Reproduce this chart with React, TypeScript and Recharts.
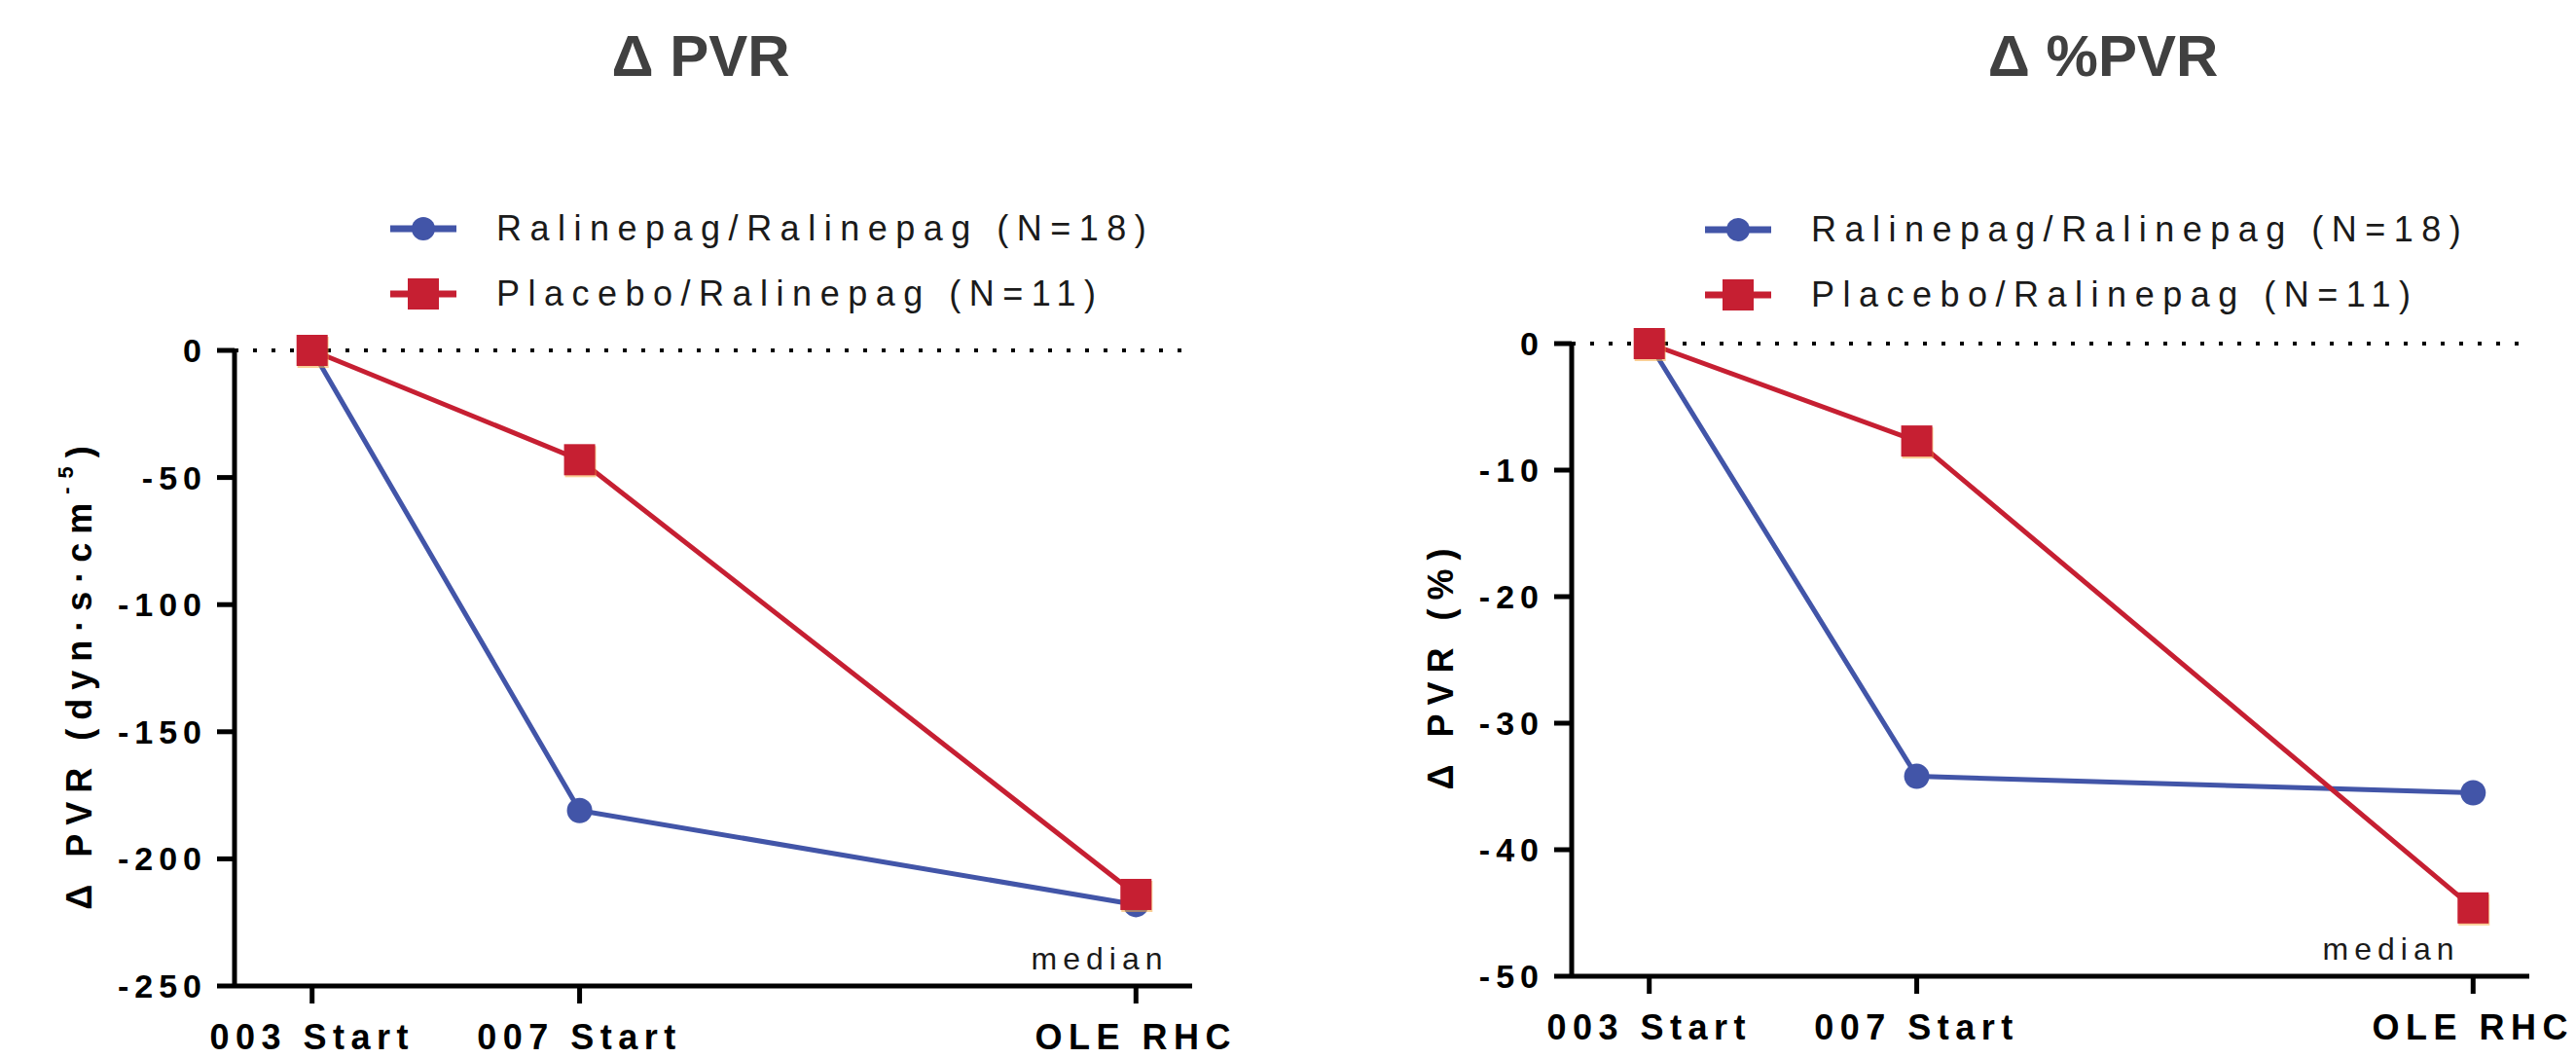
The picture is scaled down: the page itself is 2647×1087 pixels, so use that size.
import React from 'react';
import { LineChart, Line, XAxis, YAxis, ReferenceLine } from 'recharts';

// visit timeline (x position of each visit on the shared axis)
const visitLabels = ['003 Start', '007 Start', 'OLE RHC'];
const visitPos = [0, 1, 3.08];

const seriesNames = ['Ralinepag/Ralinepag (N=18)', 'Placebo/Ralinepag (N=11)'];

// change in PVR, dyn·s·cm-5
const pvrRalRal = [0, -181, -218];
const pvrPlaRal = [0, -43, -214];
const pvrTicks = [0, -50, -100, -150, -200, -250];

// change in PVR, %
const pctRalRal = [0, -34.2, -35.5];
const pctPlaRal = [0, -7.7, -44.6];
const pctTicks = [0, -10, -20, -30, -40, -50];

const BLUE = '#4255A8';
const RED = '#C61F32';
const ORANGE = '#F6A83F';
const FONT = 'Arial, "Liberation Sans", sans-serif';
const H = 1087;

const buildRows = (a: number[], b: number[]) =>
  visitPos.map((x, i) => ({ x, ral: a[i], pla: b[i] }));

const CircleDot = (p: any) =>
  p.cx == null ? null : <circle key={p.key} cx={p.cx} cy={p.cy} r={13} fill={BLUE} />;

const SquareDot = (p: any) =>
  p.cx == null ? null : (
    <g key={p.key}>
      <rect x={p.cx - 15} y={p.cy - 14} width={32} height={32} fill={ORANGE} opacity={0.55} />
      <rect x={p.cx - 16} y={p.cy - 16} width={32} height={32} fill={RED} />
    </g>
  );

const LegendBox = ({ x, y }: { x: number; y: number }) => (
  <div
    style={{
      position: 'absolute',
      left: x,
      top: y,
      fontFamily: FONT,
      fontSize: 36,
      letterSpacing: 8.5,
      color: '#1a1a1a',
      whiteSpace: 'nowrap',
    }}
  >
    {seriesNames.map((name, i) => (
      <div key={name} style={{ display: 'flex', alignItems: 'center', height: 67 }}>
        <svg width={68} height={40} style={{ marginRight: 41 }}>
          <line x1={0} x2={68} y1={20} y2={20} stroke={i === 0 ? BLUE : RED} strokeWidth={7} />
          {i === 0 ? (
            <circle cx={34} cy={20} r={12} fill={BLUE} />
          ) : (
            <rect x={18} y={4} width={32} height={32} fill={RED} />
          )}
        </svg>
        <span>{name}</span>
      </div>
    ))}
  </div>
);

type PanelProps = {
  left: number;
  width: number;
  plotLeft: number;
  plotRight: number;
  plotTop: number;
  plotBottom: number;
  rows: any[];
  yDomain: [number, number];
  yTicks: number[];
  title: string;
  titleX: number;
  yLabel: React.ReactNode;
  yLabelX: number;
  yLabelY: number;
  legendX: number;
  legendY: number;
  medianX: number;
  medianY: number;
};

const Panel = (p: PanelProps) => {
  const yAxisW = 120;
  const xAxisH = 70;
  return (
    <div style={{ position: 'absolute', left: p.left, top: 0, width: p.width, height: H }}>
      <div
        style={{
          position: 'absolute',
          left: p.titleX - 300,
          top: 28,
          width: 600,
          textAlign: 'center',
          fontFamily: FONT,
          fontWeight: 'bold',
          fontSize: 60,
          lineHeight: '60px',
          color: '#404040',
        }}
      >
        {p.title}
      </div>
      <LegendBox x={p.legendX} y={p.legendY} />
      <div style={{ position: 'absolute', left: 0, top: 0 }}>
        <LineChart
          width={p.width}
          height={H}
          data={p.rows}
          margin={{
            top: p.plotTop,
            left: p.plotLeft - yAxisW,
            right: p.width - p.plotRight,
            bottom: H - p.plotBottom - xAxisH,
          }}
        >
          <XAxis
            dataKey="x"
            type="number"
            domain={[-0.29, 3.29]}
            ticks={visitPos}
            interval={0}
            height={xAxisH}
            tickFormatter={(v: number) => visitLabels[visitPos.indexOf(v)] ?? ''}
            axisLine={{ stroke: '#000', strokeWidth: 5 }}
            tickLine={{ stroke: '#000', strokeWidth: 5 }}
            tickSize={18}
            tickMargin={21}
            tick={{ fill: '#000', fontFamily: FONT, fontWeight: 'bold', fontSize: 36, letterSpacing: 6.5 }}
          />
          <YAxis
            type="number"
            domain={p.yDomain}
            ticks={p.yTicks}
            interval={0}
            width={yAxisW}
            axisLine={{ stroke: '#000', strokeWidth: 5 }}
            tickLine={{ stroke: '#000', strokeWidth: 5 }}
            tickSize={18}
            tickMargin={10}
            tick={{ fill: '#000', fontFamily: FONT, fontWeight: 'bold', fontSize: 34, letterSpacing: 6 }}
            label={{
              content: () => (
                <text
                  x={p.yLabelX}
                  y={p.yLabelY}
                  transform={`rotate(-90, ${p.yLabelX}, ${p.yLabelY})`}
                  textAnchor="middle"
                  dominantBaseline="central"
                  fontFamily={FONT}
                  fontWeight="bold"
                  fontSize={36}
                  letterSpacing={9}
                  fill="#000"
                >
                  {p.yLabel}
                </text>
              ),
            }}
          />
          <ReferenceLine y={0} stroke="#000" strokeWidth={4} strokeDasharray="4 15" />
          <Line
            type="linear"
            dataKey="ral"
            name={seriesNames[0]}
            stroke={BLUE}
            strokeWidth={5}
            dot={CircleDot}
            activeDot={false}
            isAnimationActive={false}
          />
          <Line
            type="linear"
            dataKey="pla"
            name={seriesNames[1]}
            stroke={RED}
            strokeWidth={5}
            dot={SquareDot}
            activeDot={false}
            isAnimationActive={false}
          />
        </LineChart>
      </div>
      <div
        style={{
          position: 'absolute',
          left: p.medianX - 100,
          top: p.medianY - 18,
          width: 200,
          textAlign: 'center',
          fontFamily: FONT,
          fontSize: 32,
          lineHeight: '36px',
          letterSpacing: 6,
          color: '#1a1a1a',
        }}
      >
        median
      </div>
    </div>
  );
};

export default function App() {
  return (
    <div
      style={{
        position: 'absolute',
        left: 0,
        top: 0,
        width: 2647,
        height: H,
        background: '#fff',
        overflow: 'hidden',
      }}
    >
      <Panel
        left={0}
        width={1330}
        plotLeft={241}
        plotRight={1225}
        plotTop={360}
        plotBottom={1013}
        rows={buildRows(pvrRalRal, pvrPlaRal)}
        yDomain={[-250, 0]}
        yTicks={pvrTicks}
        title="Δ PVR"
        titleX={720}
        yLabel={
          <>
            <tspan>Δ PVR (dyn·s·cm</tspan>
            <tspan fontSize={22} dy={-14}>-5</tspan>
            <tspan dy={14}>)</tspan>
          </>
        }
        yLabelX={81}
        yLabelY={692}
        legendX={401}
        legendY={201}
        medianX={1130}
        medianY={985}
      />
      <Panel
        left={1330}
        width={1317}
        plotLeft={285}
        plotRight={1269}
        plotTop={353}
        plotBottom={1003}
        rows={buildRows(pctRalRal, pctPlaRal)}
        yDomain={[-50, 0]}
        yTicks={pctTicks}
        title="Δ %PVR"
        titleX={831}
        yLabel={<tspan>Δ PVR (%)</tspan>}
        yLabelX={150}
        yLabelY={683}
        legendX={422}
        legendY={202}
        medianX={1127}
        medianY={975}
      />
    </div>
  );
}
